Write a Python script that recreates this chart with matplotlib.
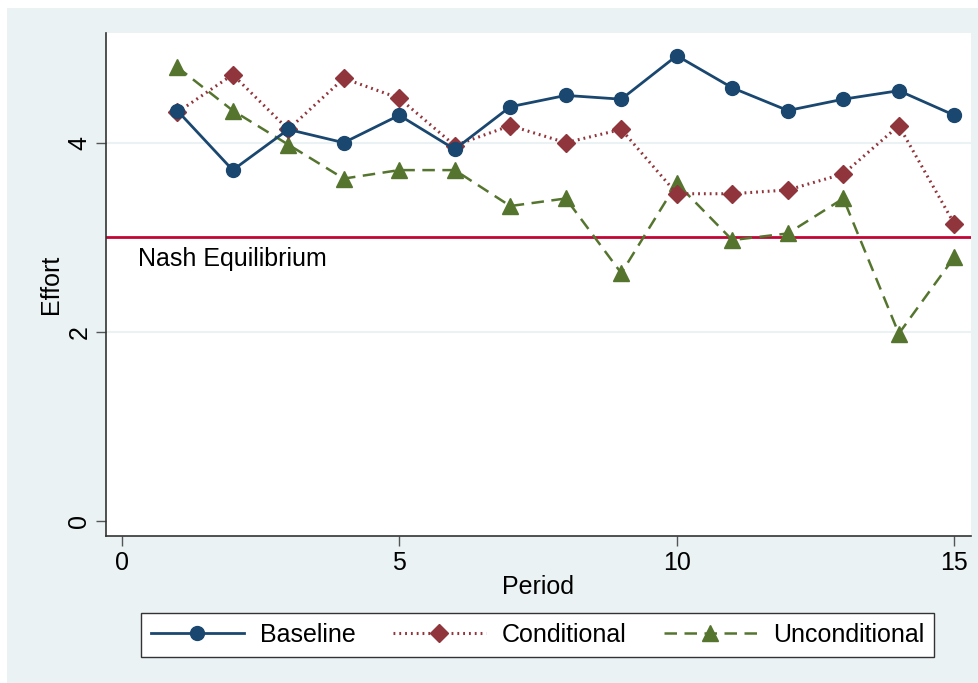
import matplotlib
matplotlib.use("Agg")
import matplotlib.pyplot as plt
from matplotlib.patches import Rectangle

periods = list(range(1, 16))
baseline = [4.34, 3.71, 4.14, 4.00, 4.29, 3.93, 4.38, 4.50, 4.46, 4.92, 4.58, 4.34, 4.46, 4.55, 4.29]
conditional = [4.32, 4.72, 4.14, 4.68, 4.47, 3.97, 4.18, 4.00, 4.14, 3.46, 3.46, 3.50, 3.67, 4.18, 3.14]
unconditional = [4.80, 4.34, 3.98, 3.62, 3.71, 3.71, 3.33, 3.41, 2.62, 3.57, 2.97, 3.04, 3.41, 1.98, 2.79]
nash = 3.0
xticks = [0, 5, 10, 15]
yticks = [0, 2, 4]

plt.rcParams['font.family'] = ['Liberation Sans', 'DejaVu Sans']
FS = 18

W, H = 979, 683
fig = plt.figure(figsize=(W/100, H/100), dpi=100, facecolor='white')
bg = Rectangle((7/W, 0), 1 - 7/W, 1 - 8/H, transform=fig.transFigure,
               facecolor='#EAF2F3', edgecolor='none', zorder=-10)
fig.add_artist(bg)

ax = fig.add_axes([106/W, (H-536)/H, (971-106)/W, (536-33)/H])
ax.set_zorder(1)
ax.set_facecolor('white')

c_base = '#1A476F'
c_cond = '#90353B'
c_unc = '#55752F'

ax.axhline(nash, color='#C10534', lw=2.0, zorder=2)
ax.text(0.29, 2.77, 'Nash Equilibrium', fontsize=FS, va='center', ha='left', color='black')

ax.plot(periods, baseline, color=c_base, lw=2.0, marker='o', markersize=10,
        label='Baseline', zorder=5)
ax.plot(periods, conditional, color=c_cond, lw=2.2, linestyle=(0, (0.6, 1.3)), marker='D',
        markersize=9, label='Conditional', zorder=4)
ax.plot(periods, unconditional, color=c_unc, lw=1.8, linestyle=(0, (5, 3)), marker='^',
        markersize=11, label='Unconditional', zorder=3)

ax.set_xlim(-0.283, 15.30)
ax.set_ylim(-0.16, 5.16)
ax.set_xticks(xticks)
ax.set_yticks(yticks)
ax.set_yticklabels([str(v) for v in yticks], rotation=90, va='center')
for v in [2, 4]:
    ax.axhline(v, color='#EAF2F3', lw=1.5, zorder=1)

ax.tick_params(axis='both', labelsize=FS, length=7, width=1, color='#555555', direction='out')
for side in ['top', 'right']:
    ax.spines[side].set_visible(False)
for side in ['left', 'bottom']:
    ax.spines[side].set_color('#333333')
    ax.spines[side].set_linewidth(1.2)

ax.set_xlabel('Period', fontsize=FS, labelpad=0)
ax.set_ylabel('Effort', fontsize=FS, labelpad=3)

leg = fig.legend(loc='center', bbox_to_anchor=(537.5/W, (H-634.5)/H), ncol=3, fontsize=FS,
                 frameon=True, fancybox=False, edgecolor='#333333', facecolor='white',
                 framealpha=1, handlelength=3.7, columnspacing=1.5, borderpad=0.4,
                 handletextpad=0.65, markerscale=1.0)
leg.get_frame().set_linewidth(1.0)

fig.savefig('out.png', dpi=100, facecolor='white')
